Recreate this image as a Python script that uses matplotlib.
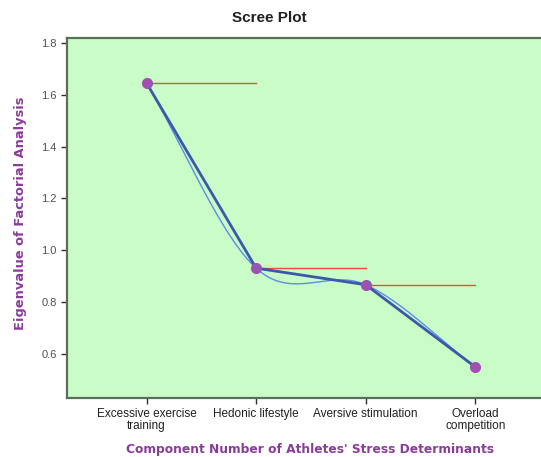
import numpy as np
import matplotlib
matplotlib.use("Agg")
import matplotlib.pyplot as plt

plt.rcParams["font.family"] = ["Liberation Sans", "DejaVu Sans"]

components = ["Excessive exercise\ntraining", "Hedonic lifestyle",
              "Aversive stimulation", "Overload\ncompetition"]
eigenvalues = [1.645, 0.931, 0.867, 0.550]
y_ticks = [0.6, 0.8, 1.0, 1.2, 1.4, 1.6, 1.8]

x = np.arange(1, len(eigenvalues) + 1, dtype=float)
y = np.array(eigenvalues)


def smooth_curve(xs, ys, steps=60):
    # cubic hermite (catmull-rom style tangents) for the thin overlay line
    m = np.gradient(ys, xs)
    px, py = [], []
    for i in range(len(xs) - 1):
        h = xs[i + 1] - xs[i]
        t = np.linspace(0, 1, steps)
        h00 = 2 * t**3 - 3 * t**2 + 1
        h10 = t**3 - 2 * t**2 + t
        h01 = -2 * t**3 + 3 * t**2
        h11 = t**3 - t**2
        px.append(xs[i] + t * h)
        py.append(h00 * ys[i] + h10 * h * m[i] + h01 * ys[i + 1] + h11 * h * m[i + 1])
    return np.concatenate(px), np.concatenate(py)


fig = plt.figure(figsize=(5.41, 4.57), dpi=100)
ax = fig.add_axes([0.124, 0.129, 0.876, 0.788])
ax.set_facecolor("#c9fcc6")

# red reference lines: each eigenvalue carried over to the next component
for i in range(len(x) - 1):
    ax.plot([x[i], x[i + 1]], [y[i], y[i]], color="#e8503c", linewidth=1.0, zorder=2)

sx, sy = smooth_curve(x, y)
ax.plot(sx, sy, color="#5a8ee8", linewidth=1.0, zorder=3)
ax.plot(x, y, color="#3c58a8", linewidth=2.0, zorder=4)
ax.plot(x, y, linestyle="none", marker="o", markersize=7,
        color="#a050b0", zorder=5)

ax.set_xlim(0.275, 4.6)
ax.set_ylim(0.43, 1.819)
ax.set_xticks(x)
ax.set_xticklabels(components, fontsize=8.5, color="#202020", linespacing=0.95)
ax.set_yticks(y_ticks)
ax.set_yticklabels([f"{v:.1f}" for v in y_ticks], fontsize=8, color="#505050")
ax.tick_params(axis="both", direction="out", length=4, width=1, color="#303030")

ax.spines["right"].set_visible(False)
for side in ("left", "bottom", "top"):
    ax.spines[side].set_color("#5a6e5a")
    ax.spines[side].set_linewidth(1.6)

fig.text(0.497, 0.96, "Scree Plot", ha="center", va="center",
         fontsize=11, fontweight="bold", color="#202020")
fig.text(0.573, 0.003, "Component Number of Athletes' Stress Determinants",
         ha="center", va="bottom", fontsize=8.8, fontweight="bold",
         color="#8a3c9a", family="DejaVu Sans")
fig.text(0.038, 0.534, "Eigenvalue of Factorial Analysis", rotation=90,
         ha="center", va="center", fontsize=9.4, fontweight="bold",
         color="#8a3c9a", family="DejaVu Sans")

fig.savefig("out.png", dpi=100)
